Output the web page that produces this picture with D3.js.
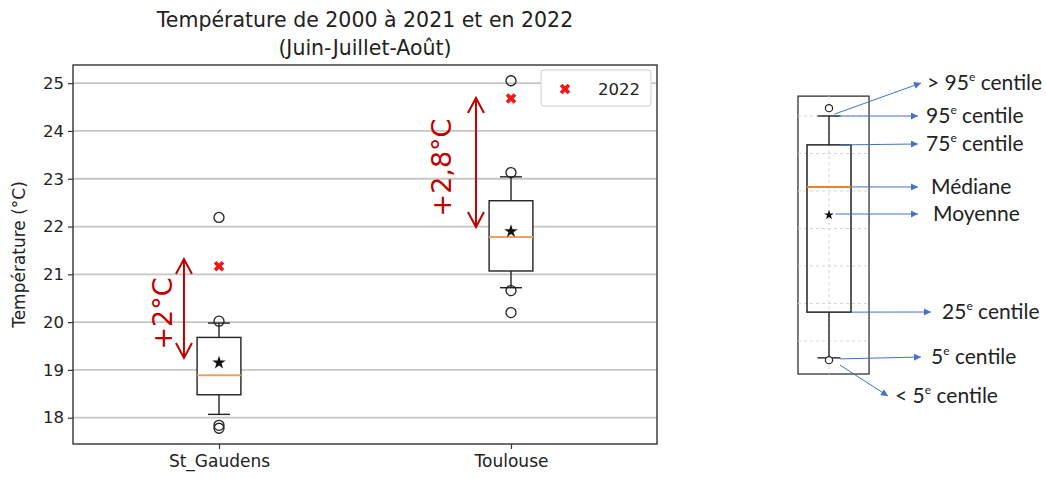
<!DOCTYPE html>
<html lang="fr">
<head>
<meta charset="UTF-8">
<title>Température de 2000 à 2021 et en 2022</title>
<script src="https://cdn.jsdelivr.net/npm/d3@7"></script>
<style>
  body { margin: 0; background: #fff; }
</style>
</head>
<body>
<script>

// boxplot statistics (°C)
var stations = ["St_Gaudens", "Toulouse"];
var q1 = [18.48, 21.07];
var median = [18.89, 21.78];
var q3 = [19.68, 22.54];
var whiskerLow = [18.07, 20.72];
var whiskerHigh = [19.98, 23.04];
var means = [19.15, 21.9];
var fliers = [[20.02, 22.19, 17.84, 17.78], [23.13, 20.66, 20.2, 25.05]];
var values2022 = [21.17, 24.68];
var yTicks = [18, 19, 20, 21, 22, 23, 24, 25];

// red annotations (gap between the two arrow tips)
var gapLabels = ["+2°C", "+2,8°C"];
var gapLow = [19.25, 21.99];
var gapHigh = [21.32, 24.69];

// schematic on the right, in arbitrary units
var schemeGrid = [1, 2, 3, 4, 5, 6, 7];
var schemeStats = {fliersLow: 0.49, low: 0.55, q1: 1.77, median: 5.11, mean: 4.36, q3: 6.23, high: 7.0, fliersHigh: 7.21};
var calloutText = ["> 95", "95", "75", "Médiane", "Moyenne", "25", "5", "< 5"];
var calloutSup = [true, true, true, false, false, true, true, true];

var width = 1046, height = 479;

var svg = d3.select("body").append("svg")
    .attr("width", width)
    .attr("height", height)
    .attr("font-family", "DejaVu Sans, sans-serif");

var x = d3.scaleLinear().domain([0.5, 2.5]).range([73, 657]);
var y = d3.scaleLinear().domain([17.45, 25.38]).range([444, 65]);

// grid
svg.append("g").selectAll("line")
    .data(yTicks)
    .enter().append("line")
    .attr("x1", x(0.5)).attr("x2", x(2.5))
    .attr("y1", function (d) { return y(d); })
    .attr("y2", function (d) { return y(d); })
    .attr("stroke", "#c6c6c6")
    .attr("stroke-width", 1.8);

// axes
var yAxis = d3.axisLeft(y).tickValues(yTicks).tickSize(5).tickPadding(4);
var xAxis = d3.axisBottom(x).tickValues([1, 2]).tickSize(5).tickPadding(6)
    .tickFormat(function (d) { return stations[d - 1]; });

var yG = svg.append("g").attr("transform", "translate(" + x(0.5) + ",0)").call(yAxis);
var xG = svg.append("g").attr("transform", "translate(0," + y(17.45) + ")").call(xAxis);
[yG, xG].forEach(function (g) {
    g.select(".domain").remove();
    g.selectAll("line").attr("stroke", "#333").attr("stroke-width", 1.2);
    g.selectAll("text").attr("font-size", 16.5).attr("fill", "#222")
        .attr("font-family", "DejaVu Sans");
});
xG.selectAll("text").attr("font-size", 17);

svg.append("rect")
    .attr("x", x(0.5)).attr("y", y(25.38))
    .attr("width", x(2.5) - x(0.5)).attr("height", y(17.45) - y(25.38))
    .attr("fill", "none").attr("stroke", "#333").attr("stroke-width", 1.4);

svg.append("text")
    .attr("transform", "translate(19," + ((y(17.45) + y(25.38)) / 2) + ") rotate(-90)")
    .attr("text-anchor", "middle")
    .attr("dominant-baseline", "central")
    .attr("font-size", 17).attr("fill", "#222")
    .text("Température (°C)");

var cx = (x(0.5) + x(2.5)) / 2;
var title = svg.append("text")
    .attr("text-anchor", "middle")
    .attr("font-size", 20.5).attr("fill", "#222");
title.append("tspan").attr("x", cx).attr("y", 27).text("Température de 2000 à 2021 et en 2022");
title.append("tspan").attr("x", cx).attr("y", 55).text("(Juin-Juillet-Août)");

// boxes
var boxW = 0.15;
var boxes = svg.append("g").selectAll("g")
    .data(stations)
    .enter().append("g");

boxes.each(function (name, i) {
    var g = d3.select(this);
    var pos = i + 1;
    // whiskers
    [[q1[i], whiskerLow[i]], [q3[i], whiskerHigh[i]]].forEach(function (w) {
        g.append("line")
            .attr("x1", x(pos)).attr("x2", x(pos))
            .attr("y1", y(w[0])).attr("y2", y(w[1]))
            .attr("stroke", "#222").attr("stroke-width", 1.4);
        g.append("line")
            .attr("x1", x(pos - boxW / 4)).attr("x2", x(pos + boxW / 4))
            .attr("y1", y(w[1])).attr("y2", y(w[1]))
            .attr("stroke", "#222").attr("stroke-width", 1.4);
    });
    g.append("rect")
        .attr("x", x(pos - boxW / 2)).attr("width", x(pos + boxW / 2) - x(pos - boxW / 2))
        .attr("y", y(q3[i])).attr("height", y(q1[i]) - y(q3[i]))
        .attr("fill", "#fff").attr("stroke", "#222").attr("stroke-width", 1.4);
    g.append("line")
        .attr("x1", x(pos - boxW / 2)).attr("x2", x(pos + boxW / 2))
        .attr("y1", y(median[i])).attr("y2", y(median[i]))
        .attr("stroke", "#e8a55a").attr("stroke-width", 2);
    g.append("path")
        .attr("d", d3.symbol().type(d3.symbolStar).size(55)())
        .attr("transform", "translate(" + x(pos) + "," + y(means[i]) + ")")
        .attr("fill", "#111");
    g.selectAll("circle.flier")
        .data(fliers[i])
        .enter().append("circle")
        .attr("cx", x(pos)).attr("cy", function (d) { return y(d); })
        .attr("r", 5)
        .attr("fill", "none").attr("stroke", "#222").attr("stroke-width", 1.3);
    g.append("path")
        .attr("d", d3.symbol().type(d3.symbolCross).size(70)())
        .attr("transform", "translate(" + x(pos) + "," + y(values2022[i]) + ") rotate(45)")
        .attr("fill", "#f01818");
});

// red double arrows with labels
var red = "#c00000";
var labelDx = [-12, -25];
gapLabels.forEach(function (label, i) {
    var ax = x(i + 1 - 0.12);
    var top = y(gapHigh[i]), bot = y(gapLow[i]);
    var g = svg.append("g");
    g.append("line")
        .attr("x1", ax).attr("x2", ax).attr("y1", top).attr("y2", bot)
        .attr("stroke", red).attr("stroke-width", 2);
    g.append("path")
        .attr("d", "M" + (ax - 8) + "," + (top + 15) + "L" + ax + "," + top + "L" + (ax + 8) + "," + (top + 15) +
            "M" + (ax - 8) + "," + (bot - 15) + "L" + ax + "," + bot + "L" + (ax + 8) + "," + (bot - 15))
        .attr("fill", "none").attr("stroke", red).attr("stroke-width", 2);
    g.append("text")
        .attr("transform", "translate(" + (ax + labelDx[i]) + "," + ((top + bot) / 2 + 5) + ") rotate(-90)")
        .attr("text-anchor", "middle")
        .attr("font-size", 27).attr("fill", red)
        .text(label);
});

// legend
var leg = svg.append("g").attr("transform", "translate(541,70)");
leg.append("rect").attr("width", 110).attr("height", 36).attr("rx", 3)
    .attr("fill", "#fff").attr("stroke", "#d0d0d0");
leg.append("path")
    .attr("d", d3.symbol().type(d3.symbolCross).size(70)())
    .attr("transform", "translate(24,19) rotate(45)")
    .attr("fill", "#f01818");
leg.append("text").attr("x", 57).attr("y", 19).attr("dominant-baseline", "central")
    .attr("font-size", 16.5).attr("fill", "#222").text("2022");

// schematic of the box
var xs = d3.scaleLinear().domain([-1, 1]).range([807, 851]);
var ys = d3.scaleLinear().domain([0, 8]).range([378.5, 78.5]);
var sch = svg.append("g");

sch.append("rect")
    .attr("x", xs(-1.41)).attr("width", xs(1.82) - xs(-1.41))
    .attr("y", ys(7.53)).attr("height", ys(0.12) - ys(7.53))
    .attr("fill", "#fff").attr("stroke", "#333").attr("stroke-width", 1.3);
sch.selectAll("line.grid")
    .data(schemeGrid)
    .enter().append("line")
    .attr("x1", xs(-1.41)).attr("x2", xs(1.82))
    .attr("y1", function (d) { return ys(d); })
    .attr("y2", function (d) { return ys(d); })
    .attr("stroke", "#d4d4d4").attr("stroke-dasharray", "3,3");
sch.append("line")
    .attr("x1", xs(0)).attr("x2", xs(0)).attr("y1", ys(7.53)).attr("y2", ys(0.12))
    .attr("stroke", "#d4d4d4").attr("stroke-dasharray", "3,3");

[[schemeStats.q1, schemeStats.low], [schemeStats.q3, schemeStats.high]].forEach(function (w) {
    sch.append("line")
        .attr("x1", xs(0)).attr("x2", xs(0)).attr("y1", ys(w[0])).attr("y2", ys(w[1]))
        .attr("stroke", "#222").attr("stroke-width", 1.4);
    sch.append("line")
        .attr("x1", xs(-0.52)).attr("x2", xs(0.52)).attr("y1", ys(w[1])).attr("y2", ys(w[1]))
        .attr("stroke", "#222").attr("stroke-width", 1.4);
});
sch.append("rect")
    .attr("x", xs(-1)).attr("width", xs(1) - xs(-1))
    .attr("y", ys(schemeStats.q3)).attr("height", ys(schemeStats.q1) - ys(schemeStats.q3))
    .attr("fill", "none").attr("stroke", "#222").attr("stroke-width", 1.5);
sch.append("line")
    .attr("x1", xs(-1)).attr("x2", xs(1))
    .attr("y1", ys(schemeStats.median)).attr("y2", ys(schemeStats.median))
    .attr("stroke", "#f0802c").attr("stroke-width", 2);
sch.append("path")
    .attr("d", d3.symbol().type(d3.symbolStar).size(30)())
    .attr("transform", "translate(" + xs(0) + "," + ys(schemeStats.mean) + ")")
    .attr("fill", "#111");
[schemeStats.fliersHigh, schemeStats.fliersLow].forEach(function (v) {
    sch.append("circle").attr("cx", xs(0)).attr("cy", ys(v)).attr("r", 3.6)
        .attr("fill", "#fff").attr("stroke", "#222").attr("stroke-width", 1.2);
});

// callouts: start on the feature, end at the label
var blue = "#4472c4";
svg.append("defs").append("marker")
    .attr("id", "tri").attr("viewBox", "0 0 10 10")
    .attr("refX", 10).attr("refY", 5)
    .attr("markerWidth", 9).attr("markerHeight", 7)
    .attr("markerUnits", "userSpaceOnUse")
    .attr("orient", "auto")
    .append("path").attr("d", "M0,0L10,5L0,10Z").attr("fill", blue);

var callStart = [
    [xs(0.25), ys(schemeStats.fliersHigh) + 6],
    [xs(0.4), ys(schemeStats.high)],
    [xs(0.5), ys(schemeStats.q3)],
    [xs(1), ys(schemeStats.median)],
    [xs(0.3), ys(schemeStats.mean) - 1],
    [xs(1), ys(schemeStats.q1)],
    [xs(0.5), ys(schemeStats.low) + 1],
    [xs(0.5), ys(schemeStats.fliersLow) + 5]
];
var callEnd = [[921, 83], [918, 116], [918, 144], [918, 187], [918, 214], [931, 312], [921, 357], [888, 396]];
var textX = [927, 926, 926, 931, 933, 942, 931, 895];

calloutText.forEach(function (t, i) {
    svg.append("line")
        .attr("x1", callStart[i][0]).attr("y1", callStart[i][1])
        .attr("x2", callEnd[i][0]).attr("y2", callEnd[i][1])
        .attr("stroke", blue).attr("stroke-width", 1)
        .attr("marker-end", "url(#tri)");
    var tx = svg.append("text")
        .attr("x", textX[i]).attr("y", callEnd[i][1] + 7)
        .attr("font-family", "Lato, sans-serif")
        .attr("font-size", 21).attr("fill", "#222");
    tx.append("tspan").text(t);
    if (calloutSup[i]) {
        tx.append("tspan").attr("font-size", 12).attr("dy", -9).text("e");
        tx.append("tspan").attr("dy", 9).text(" centile");
    }
});

</script>
</body>
</html>
